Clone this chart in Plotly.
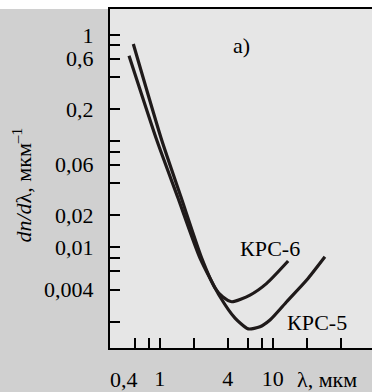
import numpy as np
import plotly.graph_objects as go

# ---- data ----
krs6_x = [0.584, 1.041, 1.543, 2.353, 3.087, 3.63, 4.34, 6.30, 8.85, 13.7]
krs6_y = [0.823, 0.1026, 0.0298, 0.00795, 0.00415, 0.00341, 0.00308, 0.00356, 0.00459, 0.00745]

krs5_x = [0.535, 0.941, 1.452, 2.273, 3.42, 4.64, 6.08, 7.72, 9.46, 13.3, 20.0, 29.0]
krs5_y = [0.638, 0.1026, 0.0292, 0.00795, 0.00343, 0.00216, 0.00171, 0.00179, 0.00207, 0.00308, 0.00493, 0.00817]

x_tick_vals = [0.6, 0.8, 1, 2, 4, 6, 8, 10, 20, 40]
x_tick_text = ["", "", "1", "", "4", "", "", "10", "", ""]
x_extra_label_val = 0.4
x_extra_label_text = "0,4"

y_tick_vals = [1, 0.8, 0.6, 0.4, 0.2, 0.1, 0.08, 0.06, 0.04, 0.02, 0.01, 0.008, 0.006, 0.004, 0.002]
y_tick_text = ["1", "", "0,6", "", "0,2", "", "", "0,06", "", "0,02", "0,01", "", "", "0,004", ""]

series_names = ["КРС-6", "КРС-5"]
label6_pos = (9.46, 0.00987)
label5_pos = (24.5, 0.00196)

FONT = "Liberation Serif, Times New Roman, DejaVu Serif, serif"
INK = "#1f1a1a"

fig = go.Figure()
for xs, ys, nm in [(krs6_x, krs6_y, series_names[0]), (krs5_x, krs5_y, series_names[1])]:
    fig.add_trace(go.Scatter(x=xs, y=ys, mode="lines", name=nm, hoverinfo="skip",
                             line=dict(color=INK, width=3.2, shape="spline", smoothing=0.6)))

tf = dict(family=FONT, size=22, color="black")
ann = []
ann.append(dict(x=np.log10(label6_pos[0]), y=np.log10(label6_pos[1]), xref="x", yref="y",
                text=series_names[0], showarrow=False, font=tf))
ann.append(dict(x=np.log10(label5_pos[0]), y=np.log10(label5_pos[1]), xref="x", yref="y",
                text=series_names[1], showarrow=False, font=tf))
ann.append(dict(x=np.log10(x_extra_label_val), y=-0.094, xref="x", yref="paper", xshift=9,
                text=x_extra_label_text, showarrow=False, xanchor="center", yanchor="middle", font=tf))
ann.append(dict(x=0.706, y=-0.094, xref="paper", yref="paper", xanchor="left", yanchor="middle",
                text="λ, мкм", showarrow=False, font=tf))
ann.append(dict(x=0.503, y=0.935, xref="paper", yref="paper", xanchor="center",
                text="а)", showarrow=False, font=tf))
ann.append(dict(x=-0.335, y=0.48, xref="paper", yref="paper", textangle=-90,
                xanchor="center", yanchor="middle",
                text="<i>dn/d</i>λ, мкм<sup>–1</sup>", showarrow=False, font=tf))

fig.update_layout(
    width=372, height=392,
    margin=dict(l=110, r=0, t=9, b=44),
    paper_bgcolor="#d0d0d0",
    plot_bgcolor="#e6e6e6",
    showlegend=False,
    annotations=ann,
    shapes=[dict(type="rect", xref="paper", yref="paper", x0=-0.5, x1=1.05, y0=1.0, y1=1.1,
                 fillcolor="white", line=dict(width=0), layer="below")],
    xaxis=dict(type="log", range=[-0.44, 1.879], showgrid=False, zeroline=False,
               showline=True, linecolor="black", linewidth=2, mirror=True,
               ticks="inside", ticklen=10, tickwidth=1.5, tickcolor="black",
               tickmode="array", tickvals=x_tick_vals, ticktext=x_tick_text,
               ticklabelstandoff=10, tickfont=tf),
    yaxis=dict(type="log", range=[-2.947, 0.245], showgrid=False, zeroline=False,
               showline=True, linecolor="black", linewidth=2, mirror=False,
               ticks="inside", ticklen=10, tickwidth=1.5, tickcolor="black",
               tickmode="array", tickvals=y_tick_vals, ticktext=y_tick_text,
               ticklabelstandoff=10, tickfont=tf),
)

fig.write_html("out.html", config={"displayModeBar": False},
               post_script="document.body.style.margin='0';document.body.style.padding='0';")
